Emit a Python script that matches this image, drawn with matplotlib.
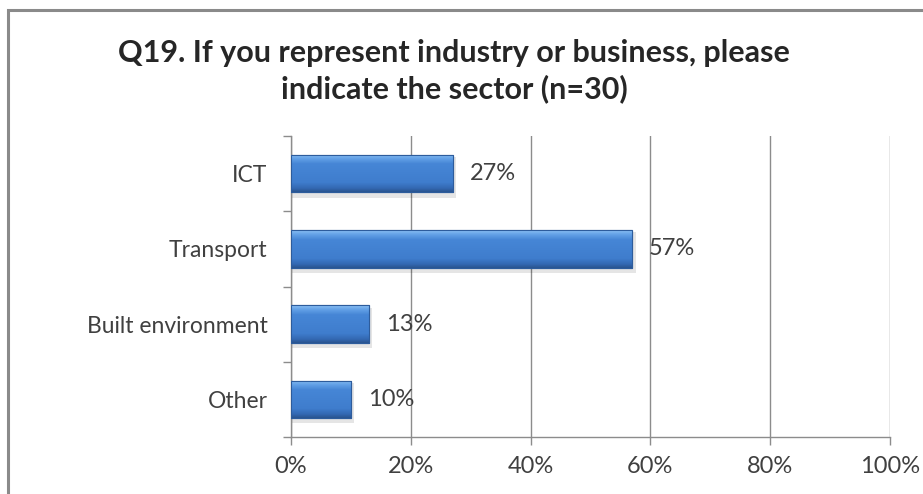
import numpy as np
import matplotlib
matplotlib.use("Agg")
import matplotlib.pyplot as plt
from matplotlib.colors import LinearSegmentedColormap
from matplotlib.patches import Rectangle
from matplotlib.ticker import FixedLocator, FuncFormatter

# Survey data
categories = ["ICT", "Transport", "Built environment", "Other"]
shares = [27, 57, 13, 10]
x_ticks = [0, 20, 40, 60, 80, 100]
title = "Q19. If you represent industry or business, please\nindicate the sector (n=30)"

plt.rcParams['font.family'] = ['Lato', 'DejaVu Sans']
text_col = "#404040"
grid_col = "#8c8c8c"

fig = plt.figure(figsize=(9.23, 4.94), dpi=100)
fig.patch.set_facecolor("white")

# outer chart frame (runs off the right and bottom edges)
frame = Rectangle((8 / 923, -0.05), 1.1, 1 - 10 / 494 + 0.05, transform=fig.transFigure,
                  fill=False, edgecolor="#8a8a8a", linewidth=2.2, zorder=0)
fig.patches.append(frame)

ax = fig.add_axes([291 / 923, 57 / 494, 599 / 923, 301 / 494])
y = np.arange(len(categories))
bar_h = 0.5

ax.set_xlim(0, 100)
ax.set_ylim(len(categories) - 0.5, -0.5)

# bevelled blue gradient for each bar
cmap = LinearSegmentedColormap.from_list(
    "bevel", [(0.0, "#8cc0f4"), (0.1, "#66a4e8"), (0.25, "#4686d6"),
              (0.75, "#3f7dcd"), (0.9, "#3469b3"), (1.0, "#2a5590")])
grad = np.linspace(0, 1, 100).reshape(-1, 1)
for yi, v in zip(y, shares):
    # soft drop shadow
    sh = Rectangle((0, yi - bar_h / 2 + 0.03), v + 0.6, bar_h + 0.04,
                   facecolor="#000000", alpha=0.10, edgecolor="none", zorder=2)
    ax.add_patch(sh)
    bar = ax.barh(yi, v, height=bar_h, color="#3f7dcd", edgecolor="#2d5c9c",
                  linewidth=0.8, zorder=3)[0]
    im = ax.imshow(grad, cmap=cmap, aspect="auto", zorder=3.5,
                   extent=(0, v, yi + bar_h / 2, yi - bar_h / 2))
    im.set_clip_path(bar)
    ax.add_patch(Rectangle((0, yi - bar_h / 2), v, bar_h, fill=False,
                           edgecolor="#2d5c9c", linewidth=0.8, zorder=3.7))
    ax.annotate(f"{v}%", xy=(v, yi), xytext=(12, 0), textcoords="offset points",
                ha="left", va="center", fontsize=17, color=text_col, zorder=5)

ax.set_xlim(0, 100)
ax.set_ylim(len(categories) - 0.5, -0.5)

# gridlines and axes
ax.xaxis.set_major_locator(FixedLocator(x_ticks))
ax.xaxis.set_major_formatter(FuncFormatter(lambda v, p: f"{v:.0f}%"))
ax.grid(axis="x", color=grid_col, linewidth=1.0, zorder=1)
ax.set_axisbelow(True)
ax.set_yticks(y)
ax.set_yticklabels(categories)
ax.set_yticks(np.arange(-0.5, len(categories) + 0.5, 1), minor=True)
ax.tick_params(axis="y", which="major", length=0, pad=17, labelsize=16.5, labelcolor=text_col)
ax.tick_params(axis="y", which="minor", length=6, color=grid_col, width=1)
ax.tick_params(axis="x", which="major", length=6, color=grid_col, width=1, pad=8,
               labelsize=17, labelcolor=text_col)
for s in ["top", "right"]:
    ax.spines[s].set_visible(False)
for s in ["left", "bottom"]:
    ax.spines[s].set_color(grid_col)
    ax.spines[s].set_linewidth(1.0)

fig.text(0.492, 1 - 71 / 494, title, ha="center", va="center", fontsize=22,
         fontweight="bold", color="#262626", linespacing=1.3)

fig.savefig("out.png", dpi=100, facecolor="white")
